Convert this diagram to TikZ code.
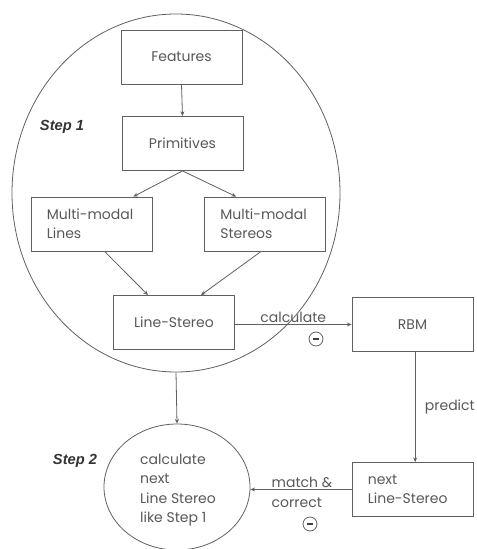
\documentclass[tikz,border=0pt]{standalone}
\usepackage{fontspec}
\setmainfont{Poppins}
\newfontfamily\stepfont{Liberation Sans}
\usetikzlibrary{shapes.geometric,arrows.meta,calc}
\definecolor{ln}{HTML}{606060}
\definecolor{tx}{HTML}{585858}
\tikzset{
  box/.style={draw=ln, line width=0.6pt, minimum width=90.75pt, minimum height=40.5pt, inner sep=2pt, text=tx, font=\fontsize{10.5}{14}\selectfont},
  conn/.style={draw=ln, line width=0.6pt, -{Stealth[length=3.5pt,width=3pt]}},
  lbl/.style={text=tx, font=\fontsize{10.5}{15}\selectfont, inner sep=1pt},
  steplbl/.style={text=black!80, font=\fontsize{11}{12}\selectfont\stepfont\bfseries\itshape, inner sep=1pt},
  minus/.style={draw=ln, line width=0.6pt, circle, minimum size=10.5pt, inner sep=0pt},
  bar/.style={draw=black!75, line width=1.6pt}
}
\begin{document}
\begin{tikzpicture}[x=0.75pt,y=-0.75pt]
\useasboundingbox (0,0) rectangle (476,549);
\node[draw=ln, line width=0.6pt, ellipse, minimum width=246pt, minimum height=268.5pt] (big) at (176,193) {};
\node[box] (feat) at (181.5,57) {Features};
\node[box] (prim) at (182.5,143.5) {Primitives};
\node[box, align=left, text width=67pt] (mml) at (91.5,224) {Multi-modal\\Lines};
\node[box, align=left, text width=67pt] (mms) at (265,224) {Multi-modal\\Stereos};
\node[box] (ls) at (174,322.5) {Line-Stereo};
\node[box] (rbm) at (412.5,324.5) {RBM};
\node[box, align=left, text width=67pt] (nls) at (412.5,489.5) {next\\Line-Stereo};
\node[draw=ln, line width=0.6pt, ellipse, minimum width=109.5pt, minimum height=94.5pt] (s2) at (177,487) {};
\node[lbl, align=left, font=\fontsize{10.5}{14.6}\selectfont] (s2t) at (178,490) {calculate\\next\\Line Stereo\\like Step 1};
\node[steplbl] (st1) at (62,127) {Step 1};
\node[steplbl] (st2) at (75,461) {Step 2};

\draw[conn] (feat.south) -- (prim.north);
\draw[conn] (prim.south) -- ([xshift=-14.25pt]mml.north east);
\draw[conn] (prim.south) -- ([xshift=24pt]mms.north west);
\draw[conn] ([xshift=55.5pt]mml.south west) -- ([xshift=-19.5pt]ls.north);
\draw[conn] ([xshift=42.75pt]mms.south west) -- ([xshift=20.25pt]ls.north);
\draw[conn] ([yshift=-1.5pt]ls.east) -- node[lbl, above] (calc) {calculate} ([yshift=-1.5pt]ls.east -| rbm.west);
\node[minus] (m1) at (316,339) {};
\draw[bar] ($(m1.center)+(-3,0)$) -- ($(m1.center)+(3,0)$);
\draw[conn] (big.south) -- (s2.north);
\draw[conn] ([xshift=2pt]rbm.south) -- node[lbl, right, xshift=6pt] (pred) {predict} ([xshift=2pt]nls.north);
\draw[conn] (nls.west) -- (nls.west -| s2.east);
\node[lbl, align=left] (mc) at (302,492) {match \&\\correct};
\node[minus] (m2) at (310,524) {};
\draw[bar] ($(m2.center)+(-3,0)$) -- ($(m2.center)+(3,0)$);
\end{tikzpicture}
\end{document}
